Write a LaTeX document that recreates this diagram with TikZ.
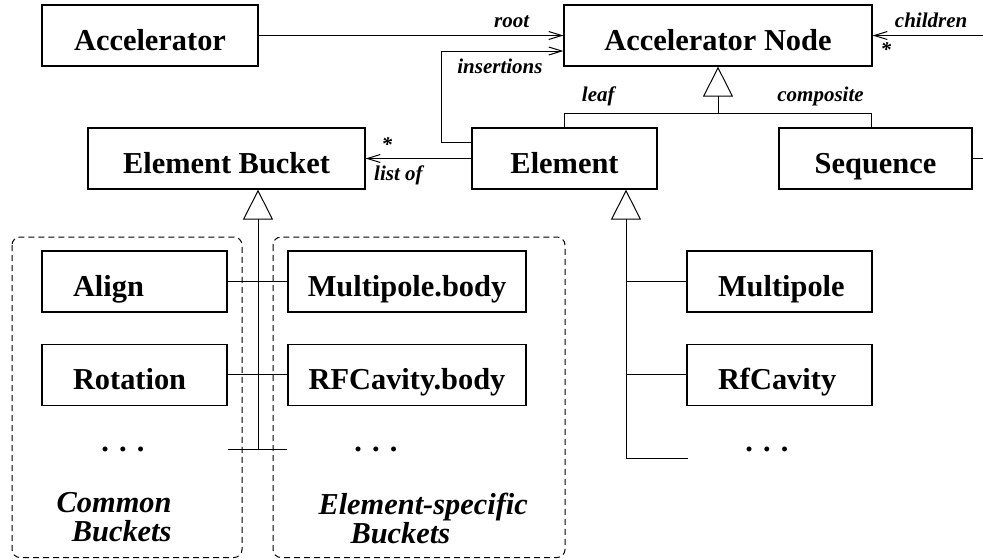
\documentclass[tikz,border=0pt]{standalone}
\usepackage{fontspec}
\setmainfont{Liberation Serif}
\usetikzlibrary{positioning,arrows.meta}

\begin{document}
\begin{tikzpicture}[
x=0.5pt, y=-0.5pt,
line width=0.5pt,
cls/.style={
    draw,
    line width=0.6pt,
    minimum height=30.5pt,
    inner sep=0pt,
    text height=14.5pt,
    text depth=0pt,
    font=\fontsize{15.2}{18}\selectfont\bfseries
},
lcls/.style={
    cls,
    text width=92.5pt,
    align=left,
    execute at begin node={\hspace*{15.5pt}}
},
lbl/.style={inner sep=3.5pt, font=\fontsize{10.5}{12}\selectfont\bfseries\itshape},
grptxt/.style={inner sep=0pt, font=\fontsize{15.2}{14.5}\selectfont\bfseries\itshape},
dots/.style={inner sep=0pt, font=\fontsize{15.2}{18}\selectfont\bfseries},
grp/.style={dash pattern=on 3pt off 2pt, rounded corners=4pt},
assoc/.style={-{Straight Barb[length=6.5pt,width=4pt]}},
gen/.style={-{Triangle[open,length=15pt,width=15pt]}}
]
\useasboundingbox (0,0) rectangle (983,559);

% bucket groups
\draw[grp] (12,237) rectangle (242,557.5);
\draw[grp] (273,237) rectangle (565,557.5);

\node[cls, minimum width=108pt] (acc) at (150,35.5) {Accelerator};
\node[cls, minimum width=154pt] (anode) at (718,35.5) {Accelerator Node};
\node[cls, minimum width=92.5pt] (elem) at (564.5,158.5) {Element};
\node[cls, minimum width=96.5pt] (seq) at (875.5,158.5) {Sequence};
\node[cls, minimum width=138.5pt] (bucket) at (226.5,158.5) {Element Bucket};

\node[lcls] (align) at (134.5,281.5) {Align};
\node[lcls, below=15.5pt of align] (rot) {Rotation};
\node[dots] (cdots) at (123,449) {. . .};

\node[cls, minimum width=119pt] (mbody) at (407,281.5) {Multipole.body};
\node[cls, minimum width=119pt, below=15.5pt of mbody] (rfbody) {RFCavity.body};
\node[dots] (sdots) at (376,449) {. . .};

\node[lcls] (mpole) at (779.5,281.5) {Multipole};
\node[lcls, below=15.5pt of mpole] (rfcav) {RfCavity};
\node[dots] (edots) at (767,449) {. . .};

\node[grptxt, align=right, anchor=east] (common) at (172,517) {Common\\Buckets};
\node[grptxt, align=left, anchor=west] (specific) at (318,518) {Element-specific\\\hspace*{16pt}Buckets};

% associations
\draw[assoc] (acc) -- node[lbl, above, pos=0.83] {root} (anode);
\draw[assoc] ([yshift=-7.5pt]elem.north west) -- ++(-15pt,0)
    |- node[lbl, below, pos=0.74] {insertions} ([yshift=-7.75pt]anode.west);
\draw[assoc] (elem) -- node[lbl, above, pos=0.8] {*}
    node[lbl, below, pos=0.69] {list of} (bucket);

\coordinate (edgetop) at (983,35.5);
\coordinate (edgemid) at (983,158.5);
\draw[assoc] (edgetop) -- node[lbl, above, pos=0.47] {children}
    node[lbl, below, pos=0.88] {*} (anode);
\draw (seq) -- (edgemid);

% inheritance
\coordinate (join) at ([yshift=-23.5pt]anode.south);
\draw[gen] (join) -- (anode.south);
\draw (elem.north) |- node[lbl, above, pos=0.61] {leaf} (join)
    -| node[lbl, above, pos=0.335] {composite} ([xshift=-2.25pt]seq.north);

\coordinate (bstem) at (258,449);
\draw[gen] (bstem) -- ([xshift=15.75pt]bucket.south);
\draw (align.east |- bstem) -- (mbody.west |- bstem);
\draw (align) -- (mbody);
\draw (rot) -- (rfbody);

\coordinate (estem) at (626,458);
\coordinate (eend) at (688,458);
\draw[gen] (estem) -- ([xshift=30.75pt]elem.south);
\draw (estem) -- (eend);
\draw (mpole) -- (mpole.west -| estem);
\draw (rfcav) -- (rfcav.west -| estem);

\end{tikzpicture}
\end{document}
